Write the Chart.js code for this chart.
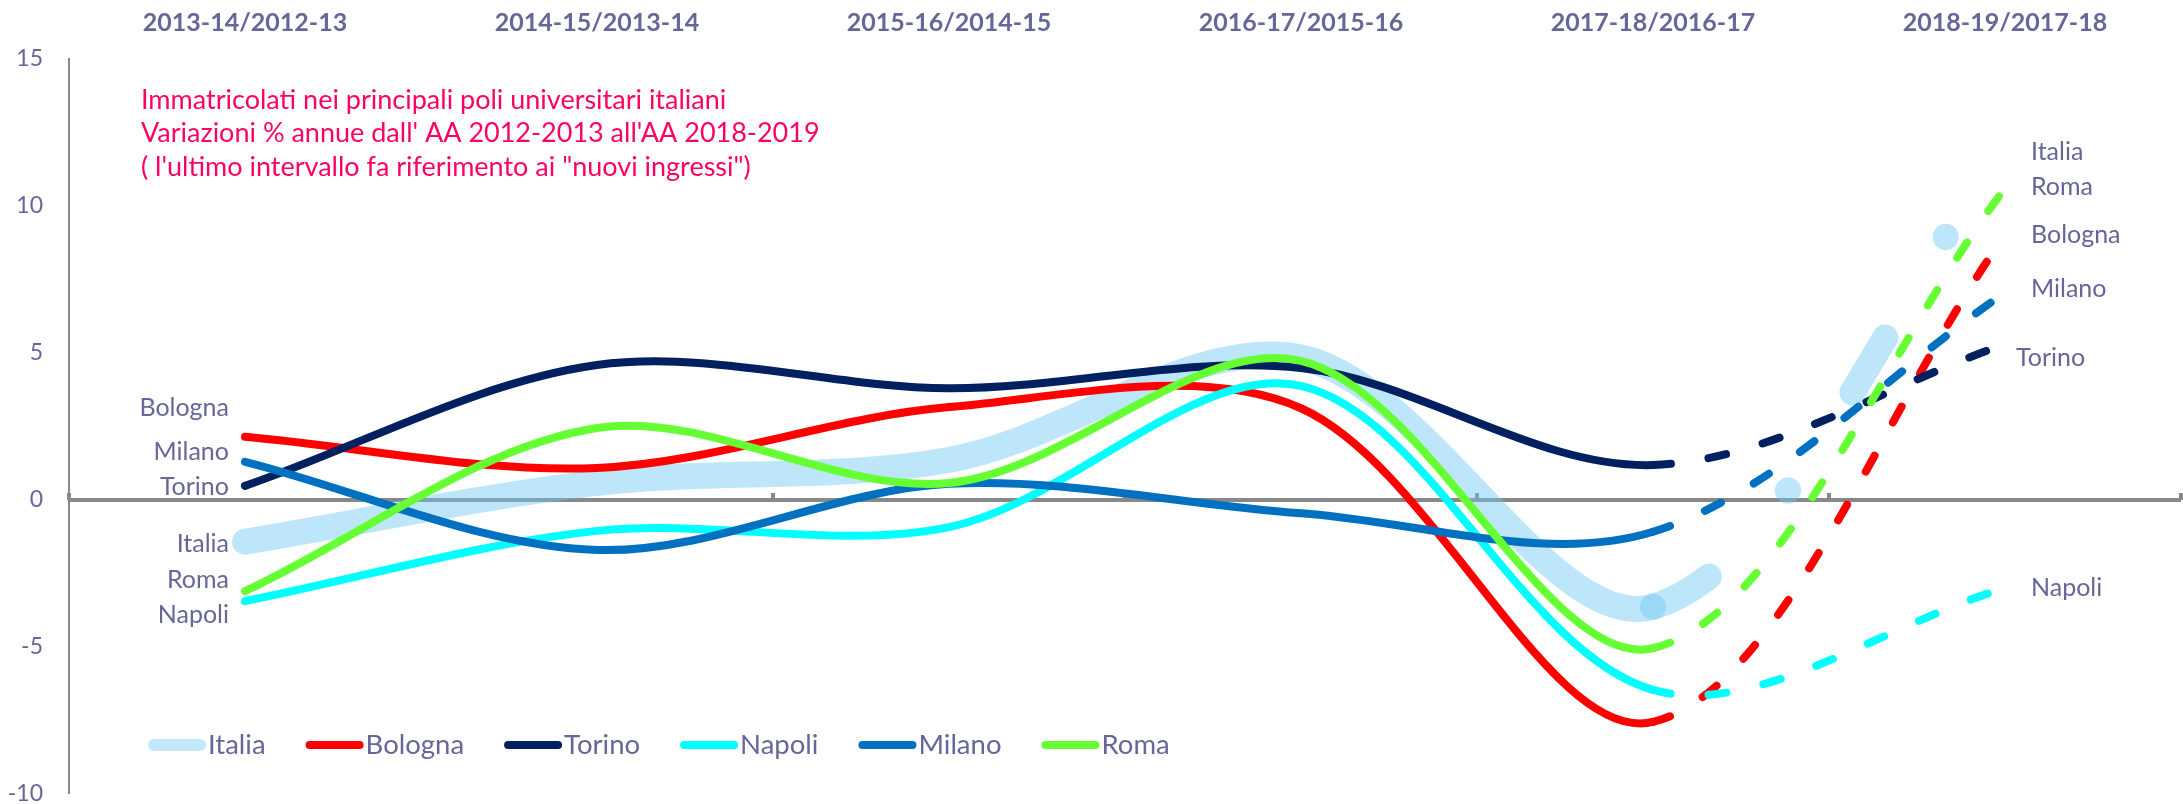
<!DOCTYPE html>
<html><head><meta charset="utf-8">
<script src="https://cdn.jsdelivr.net/npm/chart.js@4/dist/chart.umd.min.js"></script>
<style>html,body{margin:0;padding:0;background:#fff;overflow:hidden}#wrap{width:2183px;height:804px;position:relative}</style>
</head><body><div id="wrap"><canvas id="c" width="2183" height="804"></canvas></div>
<script>
// ---- data ----
const categories = ['2013-14/2012-13','2014-15/2013-14','2015-16/2014-15','2016-17/2015-16','2017-18/2016-17','2018-19/2017-18'];
const seriesNames = ['Italia','Bologna','Torino','Napoli','Milano','Roma'];
const italia  = [-1.42, 0.58, 1.36, 4.85, -3.63, 11.9];
const bologna = [ 2.15, 1.09, 3.16, 3.12, -7.55, 9.0];
const torino  = [ 0.48, 4.59, 3.80, 4.49,  1.19, 5.3];
const napoli  = [-3.44,-1.05,-0.92, 3.88, -6.46,-3.0];
const milano  = [ 1.30,-1.70, 0.55,-0.45, -1.08, 7.05];
const roma    = [-3.10, 2.45, 0.58, 4.73, -5.04, 10.6];
const yMin = -10, yMax = 15, yStep = 5;
const titleLines = ['Immatricolati nei principali poli universitari italiani',
  "Variazioni % annue dall' AA 2012-2013 all'AA 2018-2019",
  '( l\'ultimo intervallo fa riferimento ai "nuovi ingressi")'];

// ---- styles ----
const FONT = 'Lato';
const TXT = '#666699';
const seriesData = [italia, bologna, torino, napoli, milano, roma];
const seriesColors = ['rgba(110,200,245,0.45)','#ff0000','#002060','#00ffff','#0070c0','#66ff33'];
const legendColors = ['#c4e8fb','#ff0000','#002060','#00ffff','#0070c0','#66ff33'];
const seriesWidths = [26,8,8,8,8,8];
const seriesDash = [[64,117,0.5,117],[18,38],[18,38],[18,38],[18,38],[18,38]];
const seriesOrder = [6,5,4,3,2,1];
// label placement: [dx, dy] relative to first / last point
const leftLabelOff = {Italia:[-16,2],Bologna:[-16,-29],Torino:[-16,1],Napoli:[-16,14],Milano:[-16,-10],Roma:[-16,-11]};
const rightLabelOff = {Italia:[26,2],Bologna:[26,0],Torino:[11,14],Napoli:[26,0],Milano:[26,-4],Roma:[26,-1]};

const datasets = seriesNames.map((name, i) => {
  const data = seriesData[i];
  const dash = seriesDash[i];
  return {
    label: name, data, borderColor: seriesColors[i], backgroundColor: seriesColors[i],
    borderWidth: seriesWidths[i], pointRadius: 0, pointHoverRadius: 0, tension: 0.33,
    borderCapStyle: 'round', borderJoinStyle: 'round', fill: false, order: seriesOrder[i],
    segment: { borderDash: ctx => ctx.p1DataIndex === data.length - 1 ? dash : undefined }
  };
});

const decor = {
  id: 'decor',
  afterDatasetsDraw(chart) {
    const ctx = chart.ctx;
    ctx.save();
    // title
    ctx.fillStyle = '#ff0066';
    ctx.font = `27px ${FONT}`;
    ctx.textBaseline = 'middle';
    ctx.textAlign = 'left';
    titleLines.forEach((t, k) => ctx.fillText(t, 141, 100 + k * 33.5));
    // series labels
    ctx.font = `25px ${FONT}`;
    ctx.fillStyle = TXT;
    chart.data.datasets.forEach((ds, i) => {
      const meta = chart.getDatasetMeta(i);
      const p0 = meta.data[0], pn = meta.data[meta.data.length - 1];
      const lo = leftLabelOff[ds.label], ro = rightLabelOff[ds.label];
      ctx.textAlign = 'right';
      ctx.fillText(ds.label, p0.x + lo[0], p0.y + lo[1]);
      ctx.textAlign = 'left';
      ctx.fillText(ds.label, pn.x + ro[0], pn.y + ro[1]);
    });
    // legend
    let x = 148; const ly = 745;
    ctx.font = `27.5px ${FONT}`;
    ctx.textAlign = 'left';
    ctx.lineCap = 'round';
    chart.data.datasets.forEach((ds, i) => {
      const w = i === 0 ? 12 : 8;
      ctx.strokeStyle = legendColors[i];
      ctx.lineWidth = w;
      ctx.beginPath(); ctx.moveTo(x + w / 2, ly); ctx.lineTo(x + 58 - w / 2, ly); ctx.stroke();
      ctx.fillStyle = TXT;
      ctx.fillText(ds.label, x + 60, ly);
      x += 60 + ctx.measureText(ds.label).width + 40;
    });
    ctx.restore();
  }
};

function noPad(s) { s.paddingTop = 0; s.paddingBottom = 0; s.paddingLeft = 0; s.paddingRight = 0; }

new Chart(document.getElementById('c'), {
  type: 'line',
  data: { labels: categories, datasets },
  plugins: [decor],
  options: {
    responsive: false, animation: false, devicePixelRatio: 1,
    layout: { padding: { top: 0, left: 0, right: 2, bottom: 10 } },
    plugins: { legend: { display: false }, tooltip: { enabled: false } },
    scales: {
      x: {
        type: 'category', position: 'top', offset: true,
        grid: { display: false }, border: { display: false },
        ticks: { color: TXT, font: { family: FONT, size: 25, weight: 'bold' }, padding: 13, maxRotation: 0, autoSkip: false },
        afterFit(s) { s.height = 59; noPad(s); }
      },
      xz: {
        type: 'category', axis: 'x', position: { y: 0.25 }, offset: true,
        grid: { offset: true, drawOnChartArea: false, drawTicks: true, tickLength: 7, color: '#888888', lineWidth: 4 },
        border: { display: false }, ticks: { display: false },
        afterFit(s) { s.height = 0; noPad(s); }
      },
      y: {
        min: yMin, max: yMax,
        ticks: { stepSize: yStep, color: TXT, font: { family: FONT, size: 23 }, padding: 26 },
        grid: { drawTicks: false,
          color: c => c.tick && c.tick.value === 0 ? '#888888' : 'rgba(0,0,0,0)',
          lineWidth: c => c.tick && c.tick.value === 0 ? 4 : 0 },
        border: { display: true, color: '#888888', width: 2 },
        afterFit(s) { s.width = 69; noPad(s); }
      }
    }
  }
});
</script></body></html>
